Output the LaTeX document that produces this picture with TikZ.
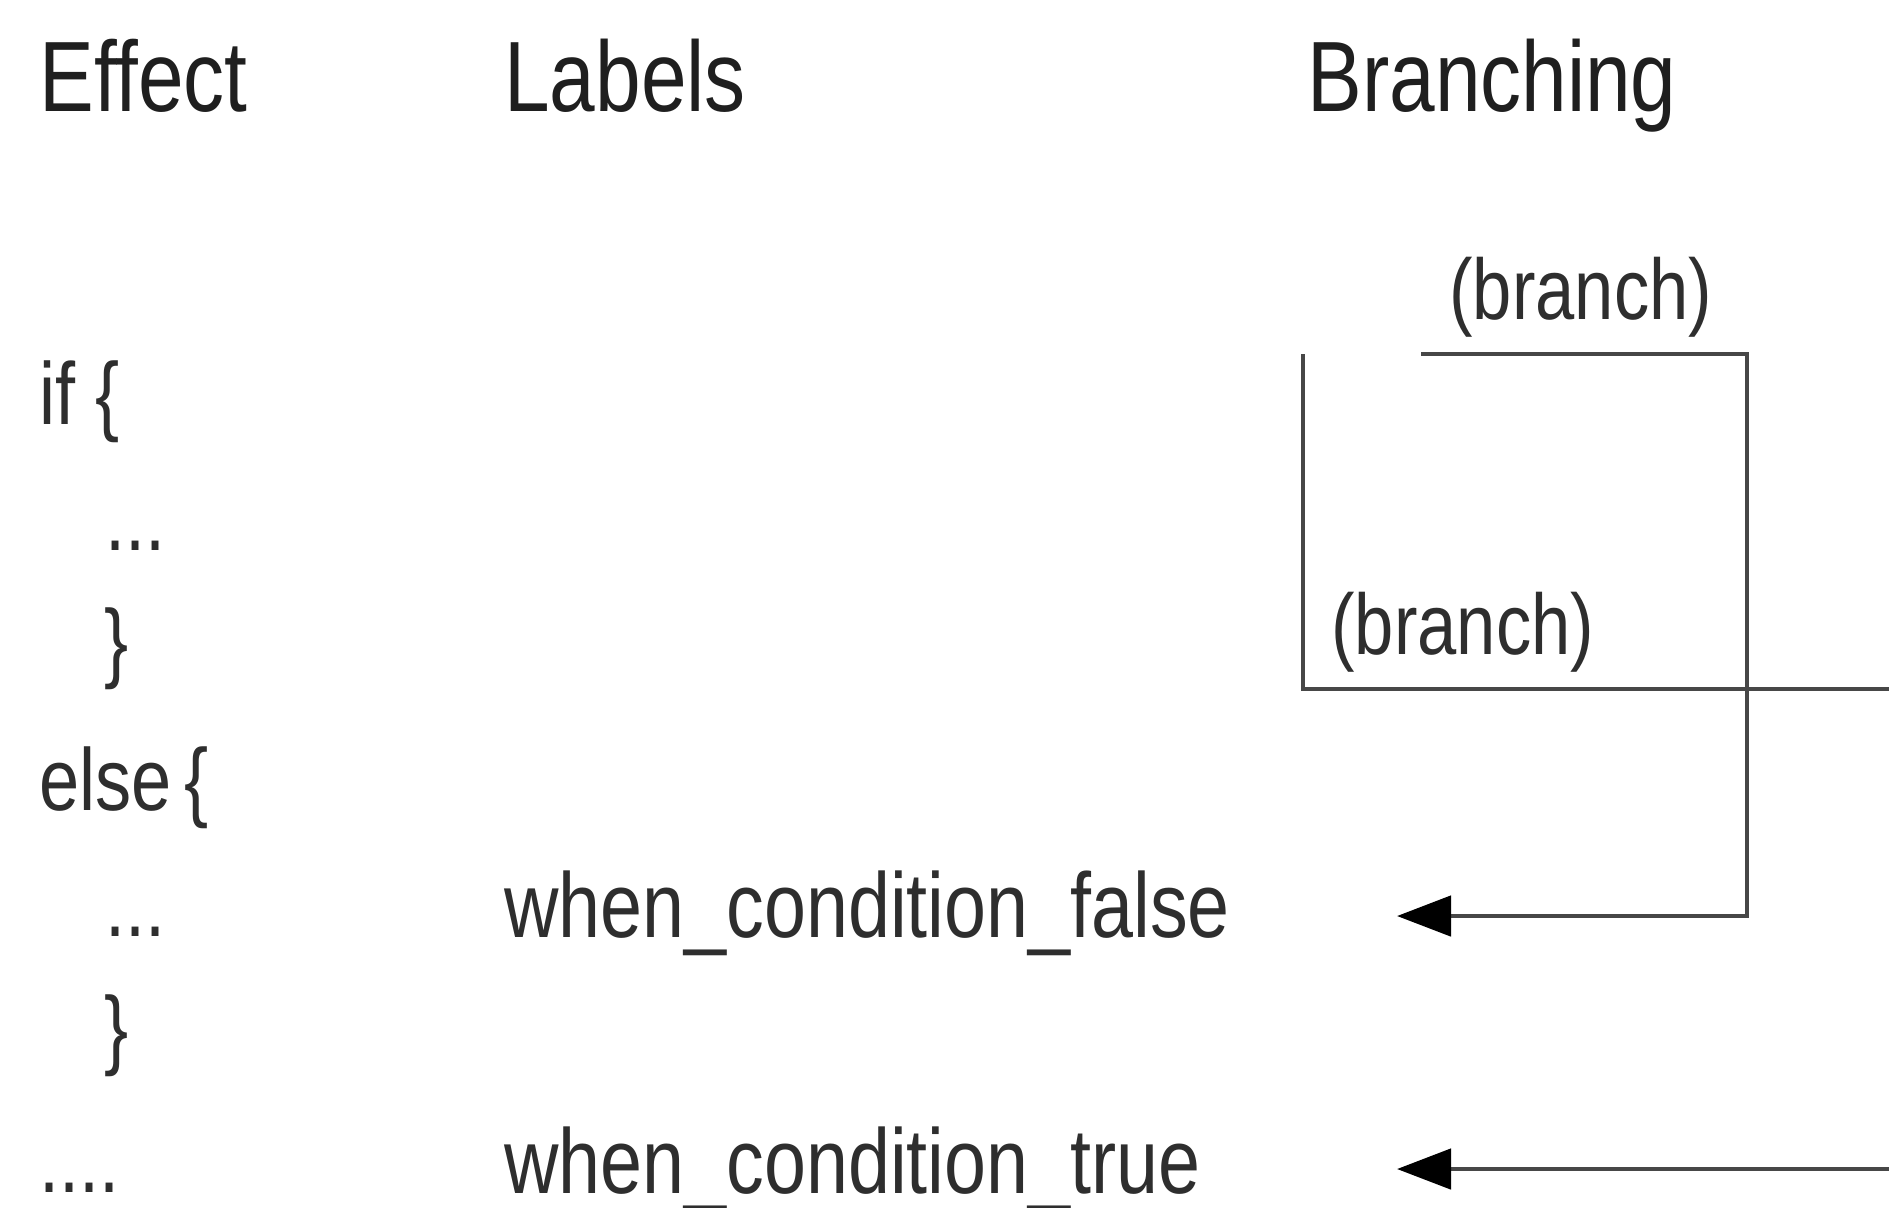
\documentclass[tikz,border=0pt]{standalone}
\usepackage{fontspec}
\setmainfont{Liberation Sans}[FakeStretch=0.82]
\usetikzlibrary{arrows.meta,positioning}

\begin{document}
\begin{tikzpicture}[
    x=0.5pt, y=-0.5pt,
    heading/.style={
       anchor=base west,
       inner sep=0pt,
       text=black!88,
       font=\fontsize{50}{60}\selectfont},
    codetext/.style={
       anchor=base west,
       inner sep=0pt,
       text=black!82,
       font=\fontsize{44}{52}\selectfont},
    labeltext/.style={codetext, font=\fontsize{46}{54}\selectfont},
    branchtext/.style={codetext, font=\fontsize{43}{50}\selectfont},
    branchline/.style={draw=black!72, line width=2.4pt},
    myarrow/.style={branchline, -{Triangle[length=27pt,width=20pt,color=black]}}
    ]
    \useasboundingbox (0,0) rectangle (1889,1207);

    % column heads
    \node[heading] (effect) at (39,111) {Effect};
    \node[heading] (labels) at (504,111) {Labels};
    \node[heading] (branching) at (1307,111) {Branching};

  \foreach \nm/\x/\y/\txt in {% name/x/baseline/text
    ifline/39/424/{if \{},
    dotsa/105/550/{...},
    closea/104/671/{\}},
    elseline/39/810/{else\hspace{0.15em}\{},
    dotsb/105/936/{...},
    closeb/104/1058/{\}},
    dotsc/39/1192/{....}}
     \node[codetext] (\nm) at (\x,\y) {\txt};

    \node[labeltext] (lfalse) at (504,937) {when\_condition\_false};
    \node[labeltext] (ltrue) at (504,1193) {when\_condition\_true};

    \node[branchtext] (bra) at (1449,319) {(branch)};
    \node[branchtext] (brb) at (1331,654) {(branch)};

    % ends of the branch lines
    \coordinate (tstart) at (1421,354);
    \coordinate (fcorner) at (1747,916);
    \coordinate (ftip) at (1397,916);
    \coordinate (lstart) at (1303,354);
    \coordinate (lend) at (1889,689);
    \coordinate (tfrom) at (1889,1169);
    \coordinate (ttip) at (1397,1169);

    \draw[myarrow] (tstart) -| (fcorner) -- (ftip);
    \draw[branchline] (lstart) |- (lend);
    \draw[myarrow] (tfrom) -- (ttip);
  \end{tikzpicture}
\end{document}
